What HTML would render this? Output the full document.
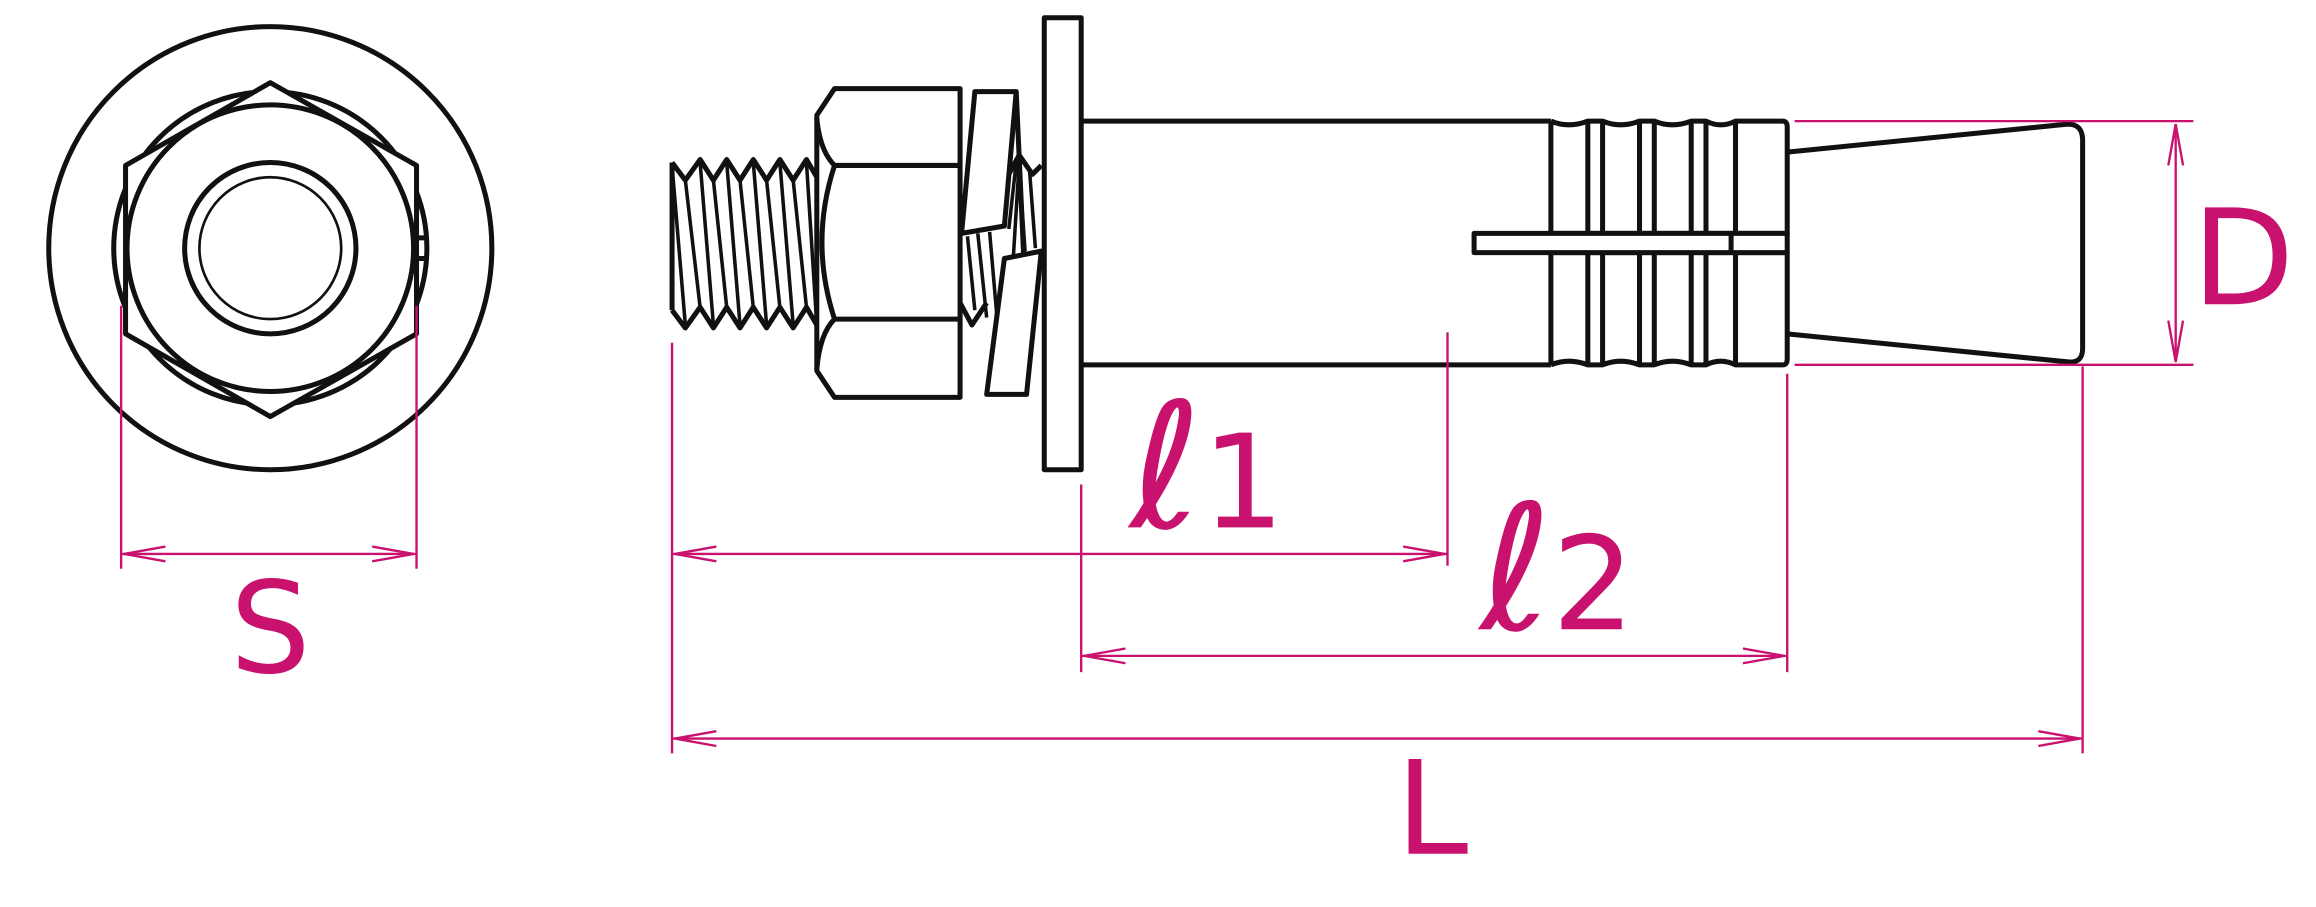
<!DOCTYPE html>
<html><head><style>html,body{margin:0;padding:0;background:#fff;}svg{display:block}</style></head>
<body>
<svg width="2316" height="907" viewBox="0 0 1568 614" preserveAspectRatio="none" xmlns="http://www.w3.org/2000/svg">
<g fill="none" stroke="#111" stroke-width="3.4" stroke-linejoin="round">
  <!-- end view -->
  <circle cx="183" cy="168" r="150"/>
  <circle cx="183" cy="168" r="106"/>
  <polygon points="183,56 282,112 282,226 183,282 85,226 85,112" fill="#fff"/>
  <circle cx="183" cy="168" r="97" fill="#fff"/>
  <circle cx="183" cy="168" r="58"/>
  <circle cx="183" cy="168" r="48" stroke-width="1.8"/>
  <path d="M282,161 H289 M282,175 H289"/>
  <!-- thread -->
  <polyline points="455,110 464,122 474,108 483,122 492,108 501,122 510,108 519,122 528,108 537,122 546,108 553,120"/>
  <polyline points="455,210 464,222 474,208 483,222 492,208 501,222 510,208 519,222 528,208 537,222 546,208 553,220"/>
  <path d="M455,110 V210"/>
  <g stroke-width="2.4">
  <path d="M455,112 L464,220 M464,122 L474,208 M474,110 L483,220 M483,122 L492,208 M492,110 L501,220 M501,122 L510,208 M510,110 L519,220 M519,122 L528,208 M528,110 L537,220 M537,122 L546,208 M546,110 L553,220"/>
  </g>
  <!-- nut -->
  <polygon points="553,78 565,60 650,60 650,269 565,269 553,251" fill="#fff"/>
  <path d="M565,112 H650 M565,216 H650"/>
  <path d="M553,80 Q555,102 565,112 Q548,164 565,216 Q555,226 553,250"/>
  <!-- lock washer + thread -->
  <g stroke-width="2.4">
  <path d="M655,160 L660,210 M662,158 L668,215 M670,157 L675,215 M683,155 L688,110 M690,112 L694,170 M697,115 L701,168 M686,175 L690,110"/>
  </g>
  <polyline points="650,205 658,220 668,205"/>
  <polyline points="683,118 690,105 699,118 705,112"/>
  <polygon points="660,62 688,62 680,153 651,158" fill="none"/>
  <polygon points="680,175 705,170 695,267 668,267" fill="#fff"/>
  <path d="M688,62 L693,172"/>
  <!-- washer plate -->
  <rect x="707" y="12" width="25" height="306" fill="#fff"/>
  <!-- sleeve body -->
  <path d="M732,82 H1050 M732,247 H1050"/>
  <path d="M1050,82 Q1062,87 1075,82 H1085 Q1097,87 1110,82 H1120 Q1132,87 1145,82 H1155 Q1165,87 1175,82 H1207 Q1210,82 1210,86 V158 H1052 M1050,82 V158"/>
  <path d="M1050,247 Q1062,242 1075,247 H1085 Q1097,242 1110,247 H1120 Q1132,242 1145,247 H1155 Q1165,242 1175,247 H1207 Q1210,247 1210,243 V171 H1052 M1050,247 V171"/>
  <path d="M1075,82 V158 M1085,82 V158 M1110,82 V158 M1120,82 V158 M1145,82 V158 M1155,82 V158 M1175,82 V158"/>
  <path d="M1075,171 V247 M1085,171 V247 M1110,171 V247 M1120,171 V247 M1145,171 V247 M1155,171 V247 M1175,171 V247"/>
  <rect x="998" y="158" width="212" height="13" fill="#fff"/>
  <path d="M1172,158 V171"/>
  <!-- cone -->
  <path d="M1210,103 L1400,84 Q1410,84 1410,95 V236 Q1410,246 1400,245 L1210,226"/>
</g>
<g stroke="#c8126e" stroke-width="1.6" fill="none">
  <path d="M82,207 V385 M282,207 V385 M82,375 H282"/>
  <path d="M112,370 L84,375 L112,380 M252,370 L280,375 L252,380"/>
  <path d="M1215,82 H1485 M1215,247 H1485 M1473,84 V245"/>
  <path d="M1468,112 L1473,84 L1478,112 M1468,217 L1473,245 L1478,217"/>
  <path d="M455,232 V510 M980,225 V383 M455,375 H980"/>
  <path d="M485,370 L457,375 L485,380 M950,370 L978,375 L950,380"/>
  <path d="M732,328 V455 M1210,253 V455 M732,444 H1210"/>
  <path d="M762,439 L734,444 L762,449 M1180,439 L1208,444 L1180,449"/>
  <path d="M1410,248 V510 M455,500 H1410"/>
  <path d="M485,495 L457,500 L485,505 M1380,495 L1408,500 L1380,505"/>
</g>
<g fill="#c8126e" font-family="'DejaVu Sans', sans-serif">
  <text x="183" y="455" font-size="86" text-anchor="middle">S</text>
  <text x="1484" y="206" font-size="90">D</text>
  <text x="765" y="357"><tspan font-size="118">ℓ</tspan><tspan font-size="88">1</tspan></text>
  <text x="1002" y="426"><tspan font-size="118">ℓ</tspan><tspan font-size="88">2</tspan></text>
  <text x="945" y="578" font-size="88">L</text>
</g>
</svg>
</body></html>
